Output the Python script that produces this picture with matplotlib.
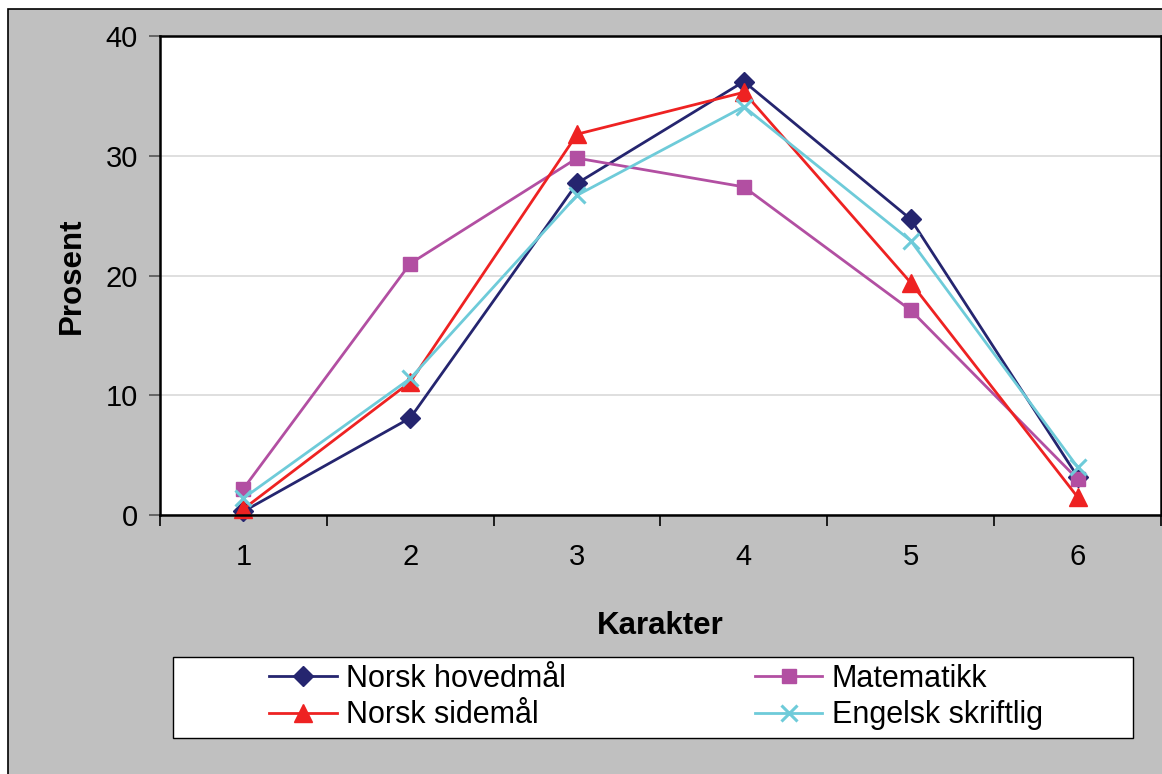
import matplotlib.pyplot as plt
from matplotlib.patches import Rectangle

plt.rcParams['font.family'] = ['Liberation Sans', 'DejaVu Sans']

karakter = ['1', '2', '3', '4', '5', '6']
hovedmaal = [0.3, 8.1, 27.7, 36.2, 24.7, 3.2]
matematikk = [2.2, 21.0, 29.8, 27.4, 17.1, 3.0]
sidemaal = [0.5, 11.1, 31.8, 35.3, 19.4, 1.5]
engelsk = [1.4, 11.4, 26.7, 34.1, 22.9, 4.0]

W, H = 1162, 774
fig = plt.figure(figsize=(W / 100, H / 100), dpi=100, facecolor='white')

# grey chart area with border
fig.patches.append(Rectangle((8 / W, -0.05), 1.1, 1 - 9 / H + 0.05, transform=fig.transFigure,
                             facecolor='#C0C0C0', edgecolor='black', lw=1.2, zorder=-10))

ax = fig.add_axes([160 / W, 1 - 515 / H, (1161 - 160) / W, (515 - 36) / H])
ax.set_zorder(2)
ax.set_facecolor('white')

x = list(range(len(karakter)))
l1, = ax.plot(x, hovedmaal, color='#25256F', lw=2, marker='D', ms=10.5, label='Norsk hovedmål', clip_on=False)
l2, = ax.plot(x, matematikk, color='#B24FA2', lw=2, marker='s', ms=10, label='Matematikk', clip_on=False)
l3, = ax.plot(x, sidemaal, color='#EE2222', lw=2, marker='^', ms=12.5, label='Norsk sidemål', clip_on=False)
l4, = ax.plot(x, engelsk, color='#6ECBD9', lw=2, marker='x', ms=12, mew=2.2, label='Engelsk skriftlig', clip_on=False)

ax.set_xlim(-0.5, len(karakter) - 0.5)
ax.set_ylim(0, 40)
ax.set_yticks([0, 10, 20, 30, 40])
ax.set_xticks(x)
ax.set_xticklabels(karakter)
ax.set_xticks([i - 0.5 for i in range(len(karakter) + 1)], minor=True)
ax.tick_params(axis='x', which='major', length=0, pad=20, labelsize=21)
ax.tick_params(axis='x', which='minor', length=8, width=1.2, color='black')
ax.tick_params(axis='y', length=8, width=1.2, color='#555555', labelsize=21, pad=8)
ax.grid(axis='y', color='#D9D9D9', lw=1.2)
ax.set_axisbelow(True)
for s in ax.spines.values():
    s.set_linewidth(1.8)
    s.set_color('black')

ax.set_xlabel('Karakter', fontsize=22.5, fontweight='bold', labelpad=29)
ax.set_ylabel('Prosent', fontsize=22.5, fontweight='bold', labelpad=13)

# legend box
fig.patches.append(Rectangle((173 / W, 1 - 738 / H), (1133 - 173) / W, (738 - 657) / H,
                             transform=fig.transFigure, facecolor='white', edgecolor='black', lw=1, zorder=3))
leg = fig.legend([l1, l3, l2, l4], ['Norsk hovedmål', 'Norsk sidemål', 'Matematikk', 'Engelsk skriftlig'],
                 ncol=2, loc='center', bbox_to_anchor=(656 / W, 1 - 697 / H), frameon=False,
                 fontsize=22, handlelength=2.2, handletextpad=0.3, columnspacing=6.2,
                 labelspacing=0.22, borderpad=0)
leg.set_zorder(5)

fig.savefig('out.png', dpi=100, facecolor=fig.get_facecolor())
